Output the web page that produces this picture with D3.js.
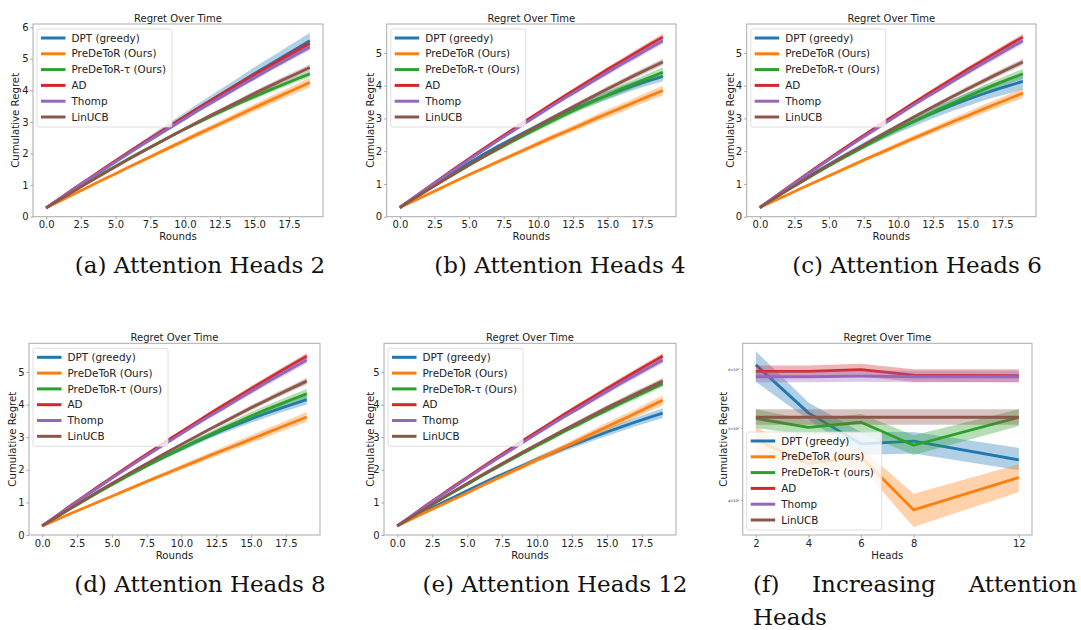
<!DOCTYPE html>
<html>
<head>
<meta charset="utf-8">
<script src="https://cdn.jsdelivr.net/npm/d3@7"></script>
<style>
  body { margin: 0; background: #fff; }
  svg text { font-family: "DejaVu Sans", sans-serif; fill: #222; }
  .caption { font-family: "Palatino Linotype", "Book Antiqua", Palatino, "DejaVu Serif", serif; fill: #111; }
</style>
</head>
<body>
<svg id="fig" width="1081" height="630"></svg>
<script>
// ---- data ----
const rounds = [0, 1, 2, 3, 4, 5, 6, 7, 8, 9, 10, 11, 12, 13, 14, 15, 16, 17, 18, 19];
const heads = [2, 4, 6, 8, 12];

const methodNames = ["DPT (greedy)", "PreDeToR (Ours)", "PreDeToR-τ (Ours)", "AD", "Thomp", "LinUCB"];
const methodNamesF = ["DPT (greedy)", "PreDeToR (ours)", "PreDeToR-τ (ours)", "AD", "Thomp", "LinUCB"];
const colors = ["#1f77b4", "#ff7f0e", "#2ca02c", "#d62728", "#9467bd", "#8c564b"];

// baselines (same in every heads setting)
const adRegret = [0.28, 0.58, 0.89, 1.18, 1.48, 1.77, 2.06, 2.34, 2.62, 2.90, 3.17, 3.44, 3.71, 3.97, 4.23, 4.49, 4.74, 4.99, 5.24, 5.48];
const thompRegret = [0.28, 0.58, 0.87, 1.17, 1.45, 1.74, 2.02, 2.30, 2.57, 2.84, 3.11, 3.38, 3.64, 3.89, 4.15, 4.40, 4.65, 4.89, 5.13, 5.37];
const linucbRegret = [0.28, 0.55, 0.81, 1.07, 1.33, 1.58, 1.83, 2.07, 2.31, 2.55, 2.78, 3.01, 3.24, 3.46, 3.68, 3.90, 4.11, 4.32, 4.52, 4.72];

// heads = 2
const dptHeads2 = [0.28, 0.58, 0.88, 1.17, 1.46, 1.75, 2.04, 2.33, 2.61, 2.89, 3.17, 3.45, 3.72, 3.99, 4.26, 4.53, 4.79, 5.05, 5.31, 5.57];
const predHeads2 = [0.28, 0.50, 0.72, 0.93, 1.15, 1.36, 1.58, 1.79, 2.00, 2.21, 2.42, 2.63, 2.83, 3.04, 3.24, 3.45, 3.65, 3.85, 4.05, 4.25];
const tauHeads2 = [0.28, 0.56, 0.83, 1.09, 1.35, 1.60, 1.85, 2.09, 2.32, 2.55, 2.78, 2.99, 3.20, 3.41, 3.61, 3.80, 3.99, 4.17, 4.35, 4.52];
// heads = 4
const dptHeads4 = [0.28, 0.57, 0.85, 1.12, 1.39, 1.64, 1.89, 2.13, 2.35, 2.57, 2.78, 2.99, 3.18, 3.36, 3.54, 3.70, 3.86, 4.01, 4.15, 4.28];
const predHeads4 = [0.28, 0.48, 0.68, 0.88, 1.08, 1.28, 1.47, 1.66, 1.85, 2.04, 2.23, 2.42, 2.60, 2.78, 2.97, 3.15, 3.32, 3.50, 3.68, 3.85];
const tauHeads4 = [0.28, 0.55, 0.81, 1.07, 1.32, 1.57, 1.81, 2.04, 2.27, 2.49, 2.71, 2.92, 3.13, 3.33, 3.52, 3.71, 3.90, 4.07, 4.24, 4.41];
// heads = 6
const dptHeads6 = [0.28, 0.56, 0.83, 1.09, 1.35, 1.59, 1.83, 2.06, 2.28, 2.49, 2.69, 2.88, 3.07, 3.25, 3.42, 3.58, 3.73, 3.87, 4.00, 4.13];
const predHeads6 = [0.28, 0.48, 0.67, 0.87, 1.06, 1.25, 1.44, 1.63, 1.82, 2.00, 2.19, 2.37, 2.55, 2.73, 2.91, 3.08, 3.26, 3.43, 3.60, 3.77];
const tauHeads6 = [0.28, 0.55, 0.81, 1.06, 1.31, 1.55, 1.79, 2.02, 2.25, 2.47, 2.68, 2.89, 3.09, 3.29, 3.48, 3.67, 3.85, 4.03, 4.20, 4.36];
// heads = 8
const dptHeads8 = [0.28, 0.55, 0.82, 1.07, 1.32, 1.56, 1.79, 2.02, 2.24, 2.45, 2.65, 2.85, 3.04, 3.22, 3.39, 3.56, 3.72, 3.87, 4.01, 4.15];
const predHeads8 = [0.28, 0.46, 0.65, 0.83, 1.01, 1.19, 1.37, 1.55, 1.73, 1.90, 2.08, 2.25, 2.43, 2.60, 2.77, 2.94, 3.11, 3.28, 3.45, 3.62];
const tauHeads8 = [0.28, 0.54, 0.80, 1.05, 1.30, 1.54, 1.78, 2.01, 2.23, 2.45, 2.66, 2.87, 3.07, 3.27, 3.46, 3.65, 3.83, 4.00, 4.17, 4.33];
// heads = 12
const dptHeads12 = [0.28, 0.51, 0.73, 0.94, 1.15, 1.36, 1.56, 1.76, 1.95, 2.13, 2.32, 2.49, 2.67, 2.83, 3.00, 3.16, 3.31, 3.46, 3.60, 3.74];
const predHeads12 = [0.28, 0.48, 0.69, 0.89, 1.09, 1.29, 1.50, 1.70, 1.90, 2.10, 2.31, 2.51, 2.71, 2.91, 3.12, 3.32, 3.52, 3.72, 3.93, 4.13];
const tauHeads12 = [0.28, 0.54, 0.80, 1.06, 1.31, 1.55, 1.80, 2.04, 2.28, 2.51, 2.74, 2.96, 3.19, 3.40, 3.62, 3.83, 4.04, 4.24, 4.44, 4.64];

// half widths of the shaded bands
const bandS = [0, 0.01, 0.01, 0.02, 0.02, 0.03, 0.03, 0.04, 0.04, 0.05, 0.05, 0.06, 0.06, 0.07, 0.07, 0.08, 0.08, 0.09, 0.09, 0.10];
const bandM = [0, 0.01, 0.02, 0.02, 0.03, 0.04, 0.05, 0.06, 0.06, 0.07, 0.08, 0.09, 0.09, 0.10, 0.11, 0.12, 0.13, 0.13, 0.14, 0.15];
const bandL = [0, 0.01, 0.03, 0.04, 0.05, 0.07, 0.08, 0.09, 0.11, 0.12, 0.13, 0.14, 0.16, 0.17, 0.18, 0.20, 0.21, 0.22, 0.24, 0.25];

// (f) final regret vs number of heads (log y axis)
const dptByHeads = [6.08, 5.24, 4.76, 4.80, 4.53];
const dptByHeadsLo = [5.77, 5.13, 4.60, 4.62, 4.39];
const dptByHeadsHi = [6.34, 5.41, 4.94, 4.94, 4.70];
const predByHeads = [4.82, 4.48, 4.57, 3.88, 4.29];
const predByHeadsLo = [4.62, 4.41, 4.43, 3.68, 4.10];
const predByHeadsHi = [5.02, 4.57, 4.70, 4.08, 4.47];
const tauByHeads = [5.15, 5.01, 5.09, 4.74, 5.17];
const tauByHeadsLo = [5.00, 4.89, 4.92, 4.60, 5.03];
const tauByHeadsHi = [5.30, 5.13, 5.22, 4.89, 5.30];
const adByHeads = [5.96, 5.96, 5.99, 5.89, 5.88];
const adByHeadsLo = [5.85, 5.85, 5.86, 5.77, 5.76];
const adByHeadsHi = [6.07, 6.07, 6.10, 6.00, 6.00];
const thompByHeads = [5.86, 5.86, 5.87, 5.86, 5.86];
const thompByHeadsLo = [5.76, 5.76, 5.77, 5.76, 5.76];
const thompByHeadsHi = [5.97, 5.97, 5.98, 5.97, 5.97];
const linucbByHeads = [5.17, 5.17, 5.17, 5.17, 5.17];
const linucbByHeadsLo = [5.05, 5.05, 5.05, 5.05, 5.05];
const linucbByHeadsHi = [5.30, 5.30, 5.30, 5.30, 5.30];

const captions = ["(a) Attention Heads 2", "(b) Attention Heads 4", "(c) Attention Heads 6",
                  "(d) Attention Heads 8", "(e) Attention Heads 12"];

// ---- helpers ----
function withBand(values, band) {
  return {
    values,
    lower: values.map((v, i) => v - band[i]),
    upper: values.map((v, i) => v + band[i]),
  };
}

const svg = d3.select("#fig");

// layout of each panel: axes box in px
const layout = [
  { left: 33, right: 323, top: 24, bottom: 216.7, ylabX: 15, capX: 200, capY: 273 },
  { left: 386.7, right: 676, top: 24, bottom: 216.7, ylabX: 370, capX: 560, capY: 273 },
  { left: 746.7, right: 1036, top: 24, bottom: 216.7, ylabX: 730, capX: 917, capY: 273 },
  { left: 29, right: 320, top: 343.3, bottom: 535, ylabX: 12, capX: 200, capY: 592 },
  { left: 384, right: 676, top: 343.3, bottom: 535, ylabX: 370, capX: 555, capY: 592 },
  { left: 742.7, right: 1032, top: 343.3, bottom: 535, ylabX: 723 },
];

const panelSeries = [
  [withBand(dptHeads2, bandL), withBand(predHeads2, bandM), withBand(tauHeads2, bandS),
   withBand(adRegret, bandS), withBand(thompRegret, bandS), withBand(linucbRegret, bandS)],
  [withBand(dptHeads4, bandM), withBand(predHeads4, bandM), withBand(tauHeads4, bandM),
   withBand(adRegret, bandS), withBand(thompRegret, bandS), withBand(linucbRegret, bandS)],
  [withBand(dptHeads6, bandL), withBand(predHeads6, bandM), withBand(tauHeads6, bandM),
   withBand(adRegret, bandS), withBand(thompRegret, bandS), withBand(linucbRegret, bandS)],
  [withBand(dptHeads8, bandM), withBand(predHeads8, bandM), withBand(tauHeads8, bandM),
   withBand(adRegret, bandS), withBand(thompRegret, bandS), withBand(linucbRegret, bandS)],
  [withBand(dptHeads12, bandM), withBand(predHeads12, bandM), withBand(tauHeads12, bandS),
   withBand(adRegret, bandS), withBand(thompRegret, bandS), withBand(linucbRegret, bandS)],
];

const headsSeries = [
  { values: dptByHeads, lower: dptByHeadsLo, upper: dptByHeadsHi },
  { values: predByHeads, lower: predByHeadsLo, upper: predByHeadsHi },
  { values: tauByHeads, lower: tauByHeadsLo, upper: tauByHeadsHi },
  { values: adByHeads, lower: adByHeadsLo, upper: adByHeadsHi },
  { values: thompByHeads, lower: thompByHeadsLo, upper: thompByHeadsHi },
  { values: linucbByHeads, lower: linucbByHeadsLo, upper: linucbByHeadsHi },
];

function styleAxis(g) {
  g.select(".domain").remove();
  g.selectAll(".tick line").attr("stroke", "#888").attr("stroke-width", 0.8);
  g.selectAll(".tick text").style("font-size", "10px").attr("fill", "#222");
}

function drawLegend(g, L, names, atBottom) {
  const w = 135, h = 98;
  const lx = L.left + 4;
  const ly = atBottom ? L.bottom - 5 - h : L.top + 5;
  const leg = g.append("g").attr("transform", `translate(${lx},${ly})`);
  leg.append("rect").attr("width", w).attr("height", h).attr("rx", 2)
    .attr("fill", "#fff").attr("fill-opacity", 0.8)
    .attr("stroke", "#d6d6d6").attr("stroke-width", 0.8);
  names.forEach((name, i) => {
    const cy = 9 + i * 15.8;
    leg.append("line").attr("x1", 4).attr("x2", 28.5).attr("y1", cy).attr("y2", cy)
      .attr("stroke", colors[i]).attr("stroke-width", 3);
    leg.append("text").attr("x", 34.5).attr("y", cy).attr("dy", "0.35em")
      .style("font-size", "10.4px").text(name);
  });
}

function drawFrame(g, L, xLabel) {
  g.append("rect").attr("x", L.left).attr("y", L.top)
    .attr("width", L.right - L.left).attr("height", L.bottom - L.top)
    .attr("fill", "none").attr("stroke", "#aaa").attr("stroke-width", 1);
  g.append("text").attr("x", (L.left + L.right) / 2).attr("y", L.top - 2.5)
    .attr("text-anchor", "middle").style("font-size", "10px").text("Regret Over Time");
  g.append("text").attr("x", (L.left + L.right) / 2).attr("y", L.bottom + 23.5)
    .attr("text-anchor", "middle").style("font-size", "10.2px").text(xLabel);
  g.append("text")
    .attr("transform", `translate(${L.ylabX},${(L.top + L.bottom) / 2}) rotate(-90)`)
    .attr("text-anchor", "middle").attr("dy", "0.35em")
    .style("font-size", "10.2px").text("Cumulative Regret");
}

// ---- panels (a)-(e) ----
panelSeries.forEach((series, p) => {
  const L = layout[p];
  const g = svg.append("g");
  const yMax = p === 0 ? 6.1 : 5.88;
  const x = d3.scaleLinear().domain([-0.95, 19.95]).range([L.left, L.right]);
  const y = d3.scaleLinear().domain([0, yMax]).range([L.bottom, L.top]);

  const area = (s) => d3.area()
    .x((d, i) => x(rounds[i])).y0((d, i) => y(s.lower[i])).y1((d, i) => y(s.upper[i]));
  const line = d3.line().x((d, i) => x(rounds[i])).y((d) => y(d));

  series.forEach((s, i) => {
    g.append("path").datum(s.values).attr("d", line)
      .attr("fill", "none").attr("stroke", colors[i]).attr("stroke-width", 2.8)
      .attr("stroke-linejoin", "round");
    g.append("path").datum(s.values).attr("d", area(s))
      .attr("fill", colors[i]).attr("fill-opacity", 0.35);
  });

  g.append("g").attr("transform", `translate(0,${L.bottom})`)
    .call(d3.axisBottom(x).tickValues([0, 2.5, 5, 7.5, 10, 12.5, 15, 17.5])
      .tickFormat(d3.format(".1f")).tickSize(2.5).tickPadding(2))
    .call(styleAxis);
  g.append("g").attr("transform", `translate(${L.left},0)`)
    .call(d3.axisLeft(y).tickValues(d3.range(0, Math.floor(yMax) + 1))
      .tickFormat(d3.format("d")).tickSize(2.5).tickPadding(2))
    .call(styleAxis);

  drawFrame(g, L, "Rounds");
  drawLegend(g, L, methodNames, false);

  svg.append("text").attr("class", "caption")
    .attr("x", L.capX).attr("y", L.capY).attr("text-anchor", "middle")
    .style("font-size", "23px").text(captions[p]);
});

// ---- panel (f) ----
{
  const L = layout[5];
  const g = svg.append("g");
  const x = d3.scaleLinear().domain([1.5, 12.5]).range([L.left, L.right]);
  const y = d3.scaleLog().domain([3.59, 6.5]).range([L.bottom, L.top]);
  const line = d3.line().x((d, i) => x(heads[i])).y((d) => y(d));

  headsSeries.forEach((s, i) => {
    g.append("path").datum(s.values).attr("d", line)
      .attr("fill", "none").attr("stroke", colors[i]).attr("stroke-width", 2.8)
      .attr("stroke-linejoin", "round");
    g.append("path").datum(s.values)
      .attr("d", d3.area().x((d, j) => x(heads[j]))
        .y0((d, j) => y(s.lower[j])).y1((d, j) => y(s.upper[j])))
      .attr("fill", colors[i]).attr("fill-opacity", 0.35);
  });

  g.append("g").attr("transform", `translate(0,${L.bottom})`)
    .call(d3.axisBottom(x).tickValues(heads).tickFormat(d3.format("d")).tickSize(2.5).tickPadding(2))
    .call(styleAxis);
  g.append("g").attr("transform", `translate(${L.left},0)`)
    .call(d3.axisLeft(y).tickValues([4, 5, 6]).tickFormat((d) => `${d}×10⁰`)
      .tickSize(1.5).tickPadding(2))
    .call(styleAxis)
    .call((a) => a.selectAll(".tick text").style("font-size", "3.5px"));

  drawFrame(g, L, "Heads");
  drawLegend(g, L, methodNamesF, true);

  // justified two-line caption
  const cap = svg.append("g").attr("class", "capf");
  cap.append("text").attr("class", "caption").attr("x", 753).attr("y", 592)
    .style("font-size", "23px").text("(f)");
  cap.append("text").attr("class", "caption").attr("x", 812).attr("y", 592)
    .style("font-size", "23px").text("Increasing");
  cap.append("text").attr("class", "caption").attr("x", 1077).attr("y", 592)
    .attr("text-anchor", "end").style("font-size", "23px").text("Attention");
  cap.append("text").attr("class", "caption").attr("x", 753).attr("y", 625)
    .style("font-size", "23px").text("Heads");
}
</script>
</body>
</html>
